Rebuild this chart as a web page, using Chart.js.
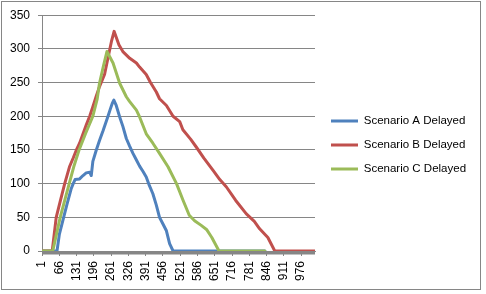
<!DOCTYPE html>
<html>
<head>
<meta charset="utf-8">
<script src="https://cdn.jsdelivr.net/npm/chart.js@4/dist/chart.umd.min.js"></script>
<style>
  html, body { margin: 0; padding: 0; background: #fff; }
  #wrap { position: relative; width: 486px; height: 294px; }
</style>
</head>
<body>
<div id="wrap"><canvas id="c" width="486" height="294"></canvas></div>
<script>
// ---- data (x = category index, y = value) ----
const seriesNames = ["Scenario A Delayed", "Scenario B Delayed", "Scenario C Delayed"];
const seriesColors = ["#4F81BD", "#C0504D", "#9BBB59"];

const xA = [1, 57, 66, 82, 95, 110, 118, 125, 142, 155, 167, 180, 186, 192, 205, 217, 230, 249, 258, 265, 271, 280, 293, 305, 318, 330, 343, 356, 368, 381, 393, 405, 418, 431, 443, 456, 469, 481, 494, 840];
const yA = [0, 0, 25, 50, 70, 92, 100, 106, 107, 112, 116, 117, 112, 133, 150, 164, 178, 200, 211, 219, 224, 216, 199, 185, 167, 156, 145, 135, 126, 118, 110, 97, 85, 68, 50, 40, 30, 11, 0, 0];

const xB = [1, 39, 54, 70, 86, 104, 118, 130, 142, 155, 168, 180, 192, 205, 217, 236, 255, 262, 272, 290, 305, 331, 356, 368, 393, 409, 431, 443, 469, 494, 519, 531, 560, 582, 610, 644, 670, 695, 730, 770, 800, 820, 851, 877, 1028];
const yB = [0, 0, 50, 75, 100, 125, 138, 150, 160, 174, 188, 200, 214, 230, 244, 262, 298, 311, 326, 306, 296, 286, 279, 273, 262, 250, 236, 226, 216, 200, 192, 180, 166, 154, 138, 120, 106, 95, 75, 55, 44, 33, 20, 0, 0];

const xC = [1, 41, 55, 69, 86, 103, 120, 140, 165, 192, 208, 217, 232, 245, 268, 293, 318, 330, 356, 368, 393, 418, 443, 475, 507, 532, 555, 575, 600, 620, 640, 667, 840];
const yC = [0, 0, 25, 50, 75, 100, 125, 150, 175, 200, 225, 249, 275, 296, 279, 249, 229, 222, 209, 199, 174, 160, 145, 125, 100, 75, 53, 45, 38, 32, 20, 0, 0];

const xMin = 0.5, xMax = 1028.5, lastCategory = 1028, labelStep = 65;
const yMin = 0, yMax = 350, yStep = 50;

function pts(xs, ys) { return xs.map((x, i) => ({ x: x, y: ys[i] })); }

const gray = "#868686";
const tickFont = { family: "'Liberation Sans', Arial, sans-serif", size: 12 };

const chromePlugin = {
  id: "chrome",
  beforeDraw(chart) {
    const ctx = chart.ctx;
    ctx.save();
    ctx.fillStyle = "#ffffff";
    ctx.fillRect(0, 0, chart.width, chart.height);
    ctx.strokeStyle = gray;
    ctx.lineWidth = 1;
    ctx.strokeRect(1.5, 1.5, 479, 288);
    ctx.restore();
  },
  beforeDatasetsDraw(chart) {
    // dense per-category tick marks of the category axis form a solid band
    const a = chart.chartArea, ctx = chart.ctx;
    ctx.save();
    ctx.fillStyle = gray;
    ctx.fillRect(a.left, a.bottom, a.right - a.left, 3.5);
    ctx.restore();
  },
  afterLayout(chart) {
    const lg = chart.legend;
    if (!lg) return;
    const w = lg.width;
    lg.left = 318.5; lg.right = lg.left + w;
    lg.top = 0; lg.bottom = 290;
  }
};

new Chart(document.getElementById("c"), {
  type: "line",
  data: {
    datasets: [
      { label: seriesNames[0], data: pts(xA, yA), borderColor: seriesColors[0], backgroundColor: seriesColors[0], order: 3 },
      { label: seriesNames[1], data: pts(xB, yB), borderColor: seriesColors[1], backgroundColor: seriesColors[1], order: 2 },
      { label: seriesNames[2], data: pts(xC, yC), borderColor: seriesColors[2], backgroundColor: seriesColors[2], order: 1 }
    ]
  },
  options: {
    responsive: false,
    animation: false,
    devicePixelRatio: 1,
    layout: { padding: { left: 0, top: 15, right: 21, bottom: 13 } },
    elements: {
      line: { borderWidth: 3, tension: 0, borderJoinStyle: "round", borderCapStyle: "round" },
      point: { radius: 0, hoverRadius: 0 }
    },
    plugins: {
      tooltip: { enabled: false },
      legend: {
        position: "right",
        maxWidth: 150,
        labels: {
          boxWidth: 27,
          boxHeight: 3,
          padding: 12.5,
          color: "#000000",
          font: { family: "'Liberation Sans', Arial, sans-serif", size: 11.5 },
          generateLabels(chart) {
            return chart.data.datasets.map((ds, i) => ({
              text: ds.label, fillStyle: ds.borderColor, strokeStyle: ds.borderColor,
              lineWidth: 0, hidden: false, datasetIndex: i, fontColor: "#000000"
            }));
          }
        }
      }
    },
    scales: {
      x: {
        type: "linear",
        min: xMin, max: xMax,
        afterBuildTicks(scale) {
          const t = [];
          for (let v = 1; v <= lastCategory; v += labelStep) t.push({ value: v });
          scale.ticks = t;
        },
        afterFit(scale) { scale.height = 30; },
        ticks: {
          autoSkip: false,
          minRotation: 90, maxRotation: 90,
          padding: 5,
          color: "#000000",
          font: tickFont,
          callback: (v) => String(v)
        },
        grid: { drawOnChartArea: false, drawTicks: true, tickLength: 5, color: gray, lineWidth: 1 },
        border: { display: true, color: gray }
      },
      y: {
        min: yMin, max: yMax,
        afterFit(scale) { scale.width = 42; },
        ticks: { stepSize: yStep, padding: 8, color: "#000000", font: tickFont },
        grid: { color: gray, tickLength: 4, lineWidth: 1 },
        border: { display: true, color: gray }
      }
    }
  },
  plugins: [chromePlugin]
});
</script>
</body>
</html>
